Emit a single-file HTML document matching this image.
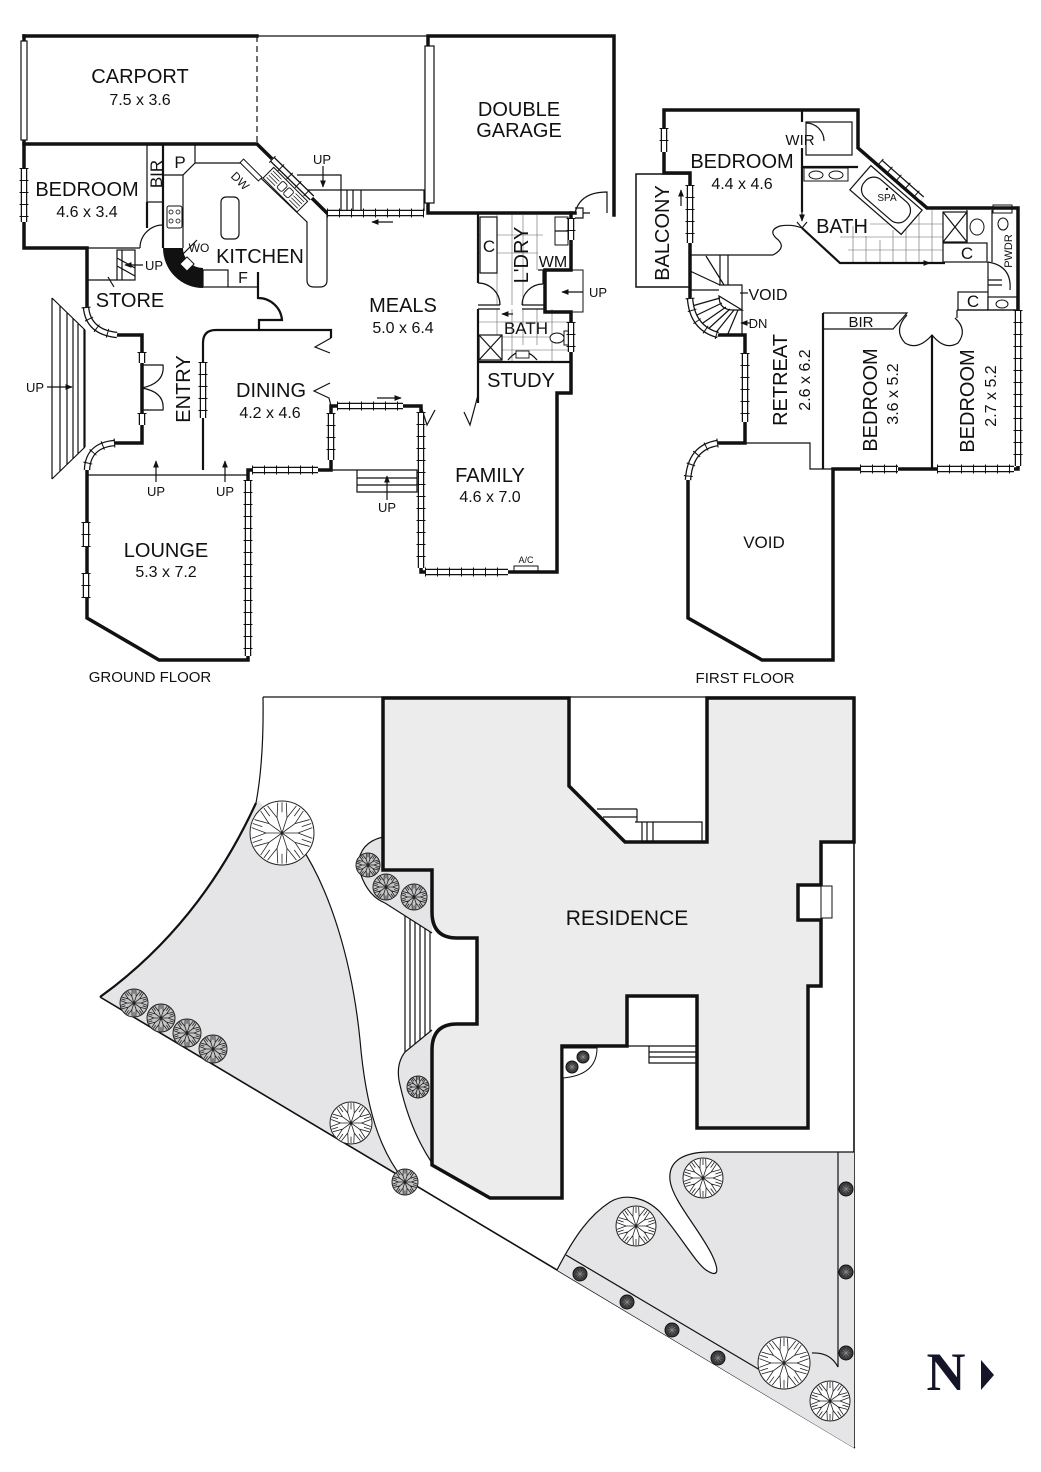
<!DOCTYPE html>
<html><head><meta charset="utf-8">
<style>
html,body{margin:0;padding:0;background:#fff;}
body{width:1041px;height:1472px;overflow:hidden;}
svg{display:block;}
text{font-family:"Liberation Sans",Arial,sans-serif;fill:#111;text-anchor:middle;}
.L{font-size:20px;}
.D{font-size:16px;}
.S{font-size:13px;}
.W{stroke:#111;stroke-width:3.5;fill:none;stroke-linejoin:miter;stroke-linecap:square;}
.M{stroke:#111;stroke-width:2.2;fill:none;}
.T{stroke:#111;stroke-width:1.2;fill:none;}
.F{stroke:#666;stroke-width:0.6;fill:none;}
.wo{stroke:#111;stroke-width:6.5;fill:none;}
.wi{stroke:#fff;stroke-width:4;fill:none;}
.wt{stroke:#111;stroke-width:9;fill:none;stroke-dasharray:1 11;}
</style></head>
<body>
<svg xmlns="http://www.w3.org/2000/svg" xmlns:xlink="http://www.w3.org/1999/xlink" width="1041" height="1472" viewBox="0 0 1041 1472">
<defs>
<marker id="ar" viewBox="0 0 10 10" refX="9" refY="5" markerWidth="6" markerHeight="6" orient="auto"><path d="M0,1 L10,5 L0,9 Z" fill="#111"/></marker>
<path id="tp" fill="none" stroke="#222" stroke-width="0.8" vector-effect="non-scaling-stroke" d="M0,0L5,0L9.46,-1.67M5,0L9.46,1.67 M0,0L4.05,2.94L8.63,4.2M4.05,2.94L6.67,6.9 M0,0L1.55,4.76L4.5,8.48M1.55,4.76L1.33,9.5 M0,0L-1.55,4.76L-1.33,9.5M-1.55,4.76L-4.5,8.48 M0,0L-4.05,2.94L-6.67,6.9M-4.05,2.94L-8.63,4.2 M0,0L-5,0L-9.46,1.67M-5,0L-9.46,-1.67 M0,0L-4.05,-2.94L-8.63,-4.2M-4.05,-2.94L-6.67,-6.9 M0,0L-1.55,-4.76L-4.5,-8.48M-1.55,-4.76L-1.33,-9.5 M0,0L1.55,-4.76L1.33,-9.5M1.55,-4.76L4.5,-8.48 M0,0L4.05,-2.94L6.67,-6.9M4.05,-2.94L8.63,-4.2 M6.18,2.01L9.13,2.97M3.82,5.26L5.64,7.77M0,6.5L0,9.6M-3.82,5.26L-5.64,7.77M-6.18,2.01L-9.13,2.97M-6.18,-2.01L-9.13,-2.97M-3.82,-5.26L-5.64,-7.77M0,-6.5L0,-9.6M3.82,-5.26L5.64,-7.77M6.18,-2.01L9.13,-2.97"/>
<g id="bt"><circle r="10" fill="#fff" stroke="#222" stroke-width="1" vector-effect="non-scaling-stroke"/><use xlink:href="#tp" href="#tp"/></g>
<g id="ht"><circle r="10" fill="#c4c4c4" stroke="#222" stroke-width="1" vector-effect="non-scaling-stroke"/><use xlink:href="#tp" href="#tp"/></g>
<g id="dt"><circle r="10" fill="#3c3c3c" stroke="#111" stroke-width="1" vector-effect="non-scaling-stroke"/><path d="M-6,0H6M0,-6V6M-4,-4L4,4M-4,4L4,-4" stroke="#888" stroke-width="0.7" vector-effect="non-scaling-stroke"/></g>
<path id="wins" d="M24,168V222 M327,213H424 M86,522V547 M86,573V598 M248,480V656 M252,470H318 M203,362V418 M331,413V460 M337,406H403 M421,412V568 M425,572H508 M571,218V240 M571,322V352 M142,352V363 M142,413V425 M86,307Q88,332 117,335 M115,443Q88,445 87,470 M272,159L312,198
M664,128V152 M690,185V243 M690,298Q692,328 718,335 M745,353V422 M718,443Q690,447 688,480 M860,469H898 M937,469H1014 M1018,310V466 M880,162L922,199"/>
</defs>

<!-- ================= GROUND FLOOR ================= -->
<path class="T" d="M257,36H428"/>
<path class="T" d="M257,36V144" stroke-dasharray="6 4"/>
<!-- stairs near meals -->
<path class="T" d="M297,175H341V213 M305,190H424V211 M347,190V211 M353,190V211 M361,190V211"/>
<text class="S" x="322" y="164">UP</text>
<path class="T" d="M323,166V187" marker-end="url(#ar)"/>
<path class="T" d="M393,222H372" marker-end="url(#ar)"/>

<!-- bedroom / kitchen details -->
<path class="T" d="M87,248H140"/>
<path class="T" d="M140,248A23,23 0 0 1 163,225"/>
<rect x="147" y="145" width="16" height="57" fill="none" stroke="#111" stroke-width="1.2"/>
<path class="M" d="M147,202V228"/>
<path class="T" d="M163,175H183L195,163V145"/>
<path class="T" d="M195,163H245L307,222V280Q307,287 314,287H320Q327,287 327,280V213"/>
<path class="T" d="M183,175V248"/>
<rect x="167" y="206" width="15" height="22" rx="2" fill="#fff" stroke="#111" stroke-width="1"/>
<circle cx="171" cy="212" r="2" fill="none" stroke="#111" stroke-width="0.8"/><circle cx="178" cy="212" r="2" fill="none" stroke="#111" stroke-width="0.8"/>
<circle cx="171" cy="221" r="2" fill="none" stroke="#111" stroke-width="0.8"/><circle cx="178" cy="221" r="2" fill="none" stroke="#111" stroke-width="0.8"/>
<rect x="221" y="197" width="18" height="42" rx="5" fill="#fff" stroke="#111" stroke-width="1.2"/>
<g transform="translate(251,170) rotate(45)"><rect x="-13" y="-2.5" width="26" height="5" fill="#fff" stroke="#111" stroke-width="1"/></g>
<text transform="translate(240,181) rotate(45)" y="4" style="font-size:12px">DW</text>
<g transform="translate(285,190) rotate(45)"><rect x="-24" y="-8" width="48" height="15" fill="#fff" stroke="#111" stroke-width="1"/>
<path d="M-22,-5H-10M-22,-2H-10M-22,1H-10M-22,4H-10M10,-5H22M10,-2H22M10,1H22M10,4H22" stroke="#111" stroke-width="0.7"/>
<rect x="-8" y="-5" width="7" height="9" rx="2" fill="#fff" stroke="#111" stroke-width="0.9"/><rect x="1" y="-5" width="7" height="9" rx="2" fill="#fff" stroke="#111" stroke-width="0.9"/></g>
<path d="M163,248A40,40 0 0 0 203,288L203,268A20,20 0 0 1 183,248Z" fill="#111"/>
<g transform="translate(187,264) rotate(45)"><rect x="-5" y="-5" width="10" height="10" fill="#fff" stroke="#111" stroke-width="1"/></g>
<path class="T" d="M183,254L197,240"/>
<rect x="203" y="270" width="25" height="17" fill="#fff" stroke="#111" stroke-width="1.2"/>
<path class="T" d="M228,287H258"/>
<path class="M" d="M258,272V298A24,24 0 0 1 282,320H259V330"/>
<!-- store -->
<path class="T" d="M87,280H117"/>
<rect x="117" y="250" width="18" height="30" fill="none" stroke="#111" stroke-width="1.2"/>
<path class="T" d="M117,258L135,268M117,266L135,276M122,250V280"/>
<path class="T" d="M143,265H125" marker-end="url(#ar)"/>
<path class="T" d="M108,277L114,287"/>
<!-- big entry stairs -->
<path class="T" d="M52,298L85,330M52,479L85,447M52,298V479M60,305.7V471.3M67,312.4V464.6M73,318.2V458.9M78,323V454.2M84,328.8V448.4M85,330V447"/>
<path class="T" d="M47,387H72" marker-end="url(#ar)"/>
<text class="S" x="35" y="392">UP</text>
<!-- entry door -->
<path class="T" d="M142,365H163Q165,383 142,388Q165,392 163,410H142"/>
<!-- entry / dining -->
<path class="T" d="M86,475H248"/>
<path class="M" d="M203,470V343Q203,330 216,330H331V338"/>
<path class="T" d="M331,338L315,347L330,353"/>
<path class="T" d="M330,383L314,391L329,398L331,406"/>
<path class="T" d="M156,482V461" marker-end="url(#ar)"/>
<path class="T" d="M225,482V461" marker-end="url(#ar)"/>
<text class="S" x="156" y="496">UP</text>
<text class="S" x="225" y="496">UP</text>
<path class="T" d="M377,398H401" marker-end="url(#ar)"/>
<path class="T" d="M421,406L427,425L435,410"/>
<path class="T" d="M478,395L470,425L464,412"/>
<!-- family stair -->
<path class="T" d="M331,470H417V492H357V470M357,478H417M357,485H417"/>
<path class="T" d="M387,500V476" marker-end="url(#ar)"/>
<text class="S" x="387" y="512">UP</text>
<rect x="514" y="566" width="24" height="6" fill="#fff" stroke="#111" stroke-width="1"/>
<text x="526" y="563" style="font-size:9px">A/C</text>
<!-- laundry / bath -->
<path class="F" d="M497,215V305M512,215V305M523,215V305M537,215V270M478,235H543M478,253H538M497,309V335M512,309V362M523,309V345M537,309V345M552,309V362M478,322H571M502,337H571M502,350H571"/>
<path class="M" d="M478,213V283M478,309V403M478,362H571"/>
<rect x="480" y="217" width="17" height="56" fill="#fff" stroke="#111" stroke-width="1.2"/>
<path class="T" d="M478,283A22,22 0 0 1 500,305M543,284A21,21 0 0 0 522,305"/>
<path class="T" d="M478,305H500M478,309H500M522,305H545M522,309H545M543,270V284"/>
<path class="T" d="M513,314H502" marker-end="url(#ar)"/>
<rect x="555" y="217" width="13" height="28" fill="#fff" stroke="#111" stroke-width="1"/>
<path class="T" d="M555,231H568M538,270H571"/>
<rect x="545" y="270" width="38" height="42" fill="none" stroke="#111" stroke-width="1"/>
<path class="T" d="M583,292H562" marker-end="url(#ar)"/>
<text class="S" x="598" y="297">UP</text>
<rect x="479" y="335" width="23" height="25" fill="#fff" stroke="#111" stroke-width="1.2"/>
<path class="T" d="M479,335L502,360M502,335L479,360"/>
<ellipse cx="557" cy="338" rx="7" ry="5" fill="#fff" stroke="#111" stroke-width="1"/>
<rect x="564" y="331" width="6" height="14" fill="#fff" stroke="#111" stroke-width="1"/>
<path class="T" d="M508,360Q522,343 537,360"/><rect x="516" y="351" width="13" height="7" fill="#fff" stroke="#111" stroke-width="0.9"/>
<path class="T" d="M575,208H583V218H575M583,213H590"/>
<path class="T" d="M575,213Q580,192 607,192V213"/>

<!-- thick walls ground -->
<path class="W" d="M24,36H257"/>
<path class="W" d="M24,36V248H87V307"/>
<path class="W" d="M24,144H257L327,213"/>
<path class="M" d="M163,144V248"/>
<path class="W" d="M428,36V213H575M428,36H614V215"/>
<path class="W" d="M117,335H142V443H115"/>
<path class="W" d="M87,470V618L159,660H248V470H331V406H421V572H557V393H571V312H545V270H571V213"/>
<!-- window frames over walls -->
<rect x="21" y="41" width="6" height="99" fill="#fff" stroke="#111" stroke-width="1.2"/>
<rect x="425" y="46" width="9" height="157" fill="#fff" stroke="#111" stroke-width="1.2"/>

<!-- ================= FIRST FLOOR ================= -->
<rect x="636" y="174" width="54" height="113" fill="none" stroke="#111" stroke-width="1.5"/>
<path class="T" d="M681,206V190" marker-end="url(#ar)"/>
<path class="T" d="M690,255H773"/>
<path class="T" d="M773,255Q788,247 776,238Q768,230 780,226Q792,224 802,228"/>
<!-- WIR -->
<path class="M" d="M802,110V122M802,148V167H858"/>
<rect x="806" y="122" width="46" height="33" fill="none" stroke="#111" stroke-width="1.2"/>
<path class="T" d="M806,123A18,18 0 0 1 824,141"/>
<!-- bath -->
<path class="M" d="M802,167V212"/>
<rect x="804" y="168" width="44" height="13" fill="#fff" stroke="#111" stroke-width="1"/>
<ellipse cx="816" cy="175" rx="7" ry="4" fill="#fff" stroke="#111" stroke-width="1"/>
<ellipse cx="836" cy="175" rx="7" ry="4" fill="#fff" stroke="#111" stroke-width="1"/>
<path class="T" d="M802,212V221" marker-end="url(#ar)"/>
<path class="T" d="M797,222L802,228L807,222"/>
<path class="F" d="M853,226V263M866,236V263M880,240V263M893,230V263M906,218V263M919,212V263M932,210V263M840,237H943M848,250H943M870,224H943"/>
<path class="M" d="M802,228L840,263H945"/>
<path class="T" d="M900,263H930" marker-end="url(#ar)"/>
<g transform="translate(886,200) rotate(41)"><rect x="-34" y="-16" width="68" height="32" fill="#fff" stroke="#111" stroke-width="1.2"/><rect x="-28" y="-12" width="56" height="24" rx="11" fill="#fff" stroke="#111" stroke-width="1.2"/></g>
<circle cx="887" cy="189" r="1.2" fill="#111"/>
<text x="887" y="201" style="font-size:10px">SPA</text>
<rect x="943" y="212" width="24" height="30" fill="#fff" stroke="#111" stroke-width="1.2"/>
<path class="T" d="M943,212L967,242M967,212L943,242"/>
<ellipse cx="977" cy="227" rx="7" ry="8" fill="#fff" stroke="#111" stroke-width="1"/>
<path class="T" d="M967,210V242M992,210V262"/>
<rect x="943" y="243" width="44" height="19" fill="#fff" stroke="#111" stroke-width="1.2"/>
<rect x="993" y="205" width="19" height="8" fill="#fff" stroke="#111" stroke-width="1"/>
<ellipse cx="1003" cy="224" rx="5" ry="6" fill="#fff" stroke="#111" stroke-width="1"/>
<path class="T" d="M988,262Q1012,266 1010,290M988,262V292M988,280H1002M988,285H1002"/>
<rect x="958" y="292" width="30" height="18" fill="#fff" stroke="#111" stroke-width="1.2"/>
<rect x="988" y="297" width="29" height="13" fill="#fff" stroke="#111" stroke-width="1.2"/>
<ellipse cx="1002" cy="304" rx="6" ry="4" fill="#fff" stroke="#111" stroke-width="1"/>
<path class="T" d="M957,310H1018M957,310V318"/>
<!-- BIR / bedrooms -->
<path class="T" d="M823,313H907L893,329H823"/>
<path class="M" d="M823,313V469M932,335V469"/>
<path class="T" d="M907,315Q893,330 905,343Q918,351 932,335Q945,351 958,343Q968,330 955,318"/>
<!-- spiral stair -->
<path class="T" d="M719,285H742V335M742,310H733Q719,310 719,296Z"/>
<path class="T" d="M719,290H690M720,298L692,306M722,303L695,316M726,307L700,325M730,309L706,331M734,310L714,335M738,310L727,336M720,285L690,271M720,285V255M728,285V255M724,285L706,256"/>
<path class="T" d="M740,293H748"/>
<path class="T" d="M750,323H741" marker-end="url(#ar)"/>
<path class="T" d="M745,443H810V469H833"/>
<!-- thick walls first floor -->
<path class="W" d="M688,480V618L762,660H833V469H1018V208H927L858,148V110H664V173H690V298"/>
<path class="W" d="M718,335H745V443H718"/>

<!-- windows -->
<use xlink:href="#wins" href="#wins" class="wo"/>
<use xlink:href="#wins" href="#wins" class="wi"/>
<use xlink:href="#wins" href="#wins" class="wt"/>

<!-- ground labels -->
<text class="L" x="140" y="83">CARPORT</text>
<text class="D" x="140" y="105">7.5 x 3.6</text>
<text class="L" x="519" y="116">DOUBLE</text>
<text class="L" x="519" y="137">GARAGE</text>
<text class="L" x="87" y="196">BEDROOM</text>
<text class="D" x="87" y="217">4.6 x 3.4</text>
<text transform="translate(156,174) rotate(-90)" y="6" style="font-size:17px">BIR</text>
<text x="180" y="168" style="font-size:17px">P</text>
<text class="L" x="260" y="263">KITCHEN</text>
<text x="199" y="252" style="font-size:12px">WO</text>
<text x="243" y="283" style="font-size:16px">F</text>
<text class="L" x="130" y="307">STORE</text>
<text class="S" x="154" y="270">UP</text>
<text class="L" x="403" y="312">MEALS</text>
<text class="D" x="403" y="333">5.0 x 6.4</text>
<text x="489" y="252" style="font-size:17px">C</text>
<text transform="translate(521,255) rotate(-90)" y="7" class="L">L'DRY</text>
<text x="553" y="267" style="font-size:16px">WM</text>
<text x="526" y="334" style="font-size:17px">BATH</text>
<text class="L" x="521" y="387">STUDY</text>
<text transform="translate(183,389) rotate(-90)" y="7" class="L">ENTRY</text>
<text class="L" x="271" y="397">DINING</text>
<text class="D" x="270" y="418">4.2 x 4.6</text>
<text class="L" x="490" y="482">FAMILY</text>
<text class="D" x="490" y="502">4.6 x 7.0</text>
<text class="L" x="166" y="557">LOUNGE</text>
<text class="D" x="166" y="577">5.3 x 7.2</text>
<text x="150" y="682" style="font-size:15px">GROUND FLOOR</text>

<!-- first labels -->
<text class="L" x="742" y="168">BEDROOM</text>
<text class="D" x="742" y="189">4.4 x 4.6</text>
<text x="800" y="145" style="font-size:15px">WIR</text>
<text transform="translate(662,233) rotate(-90)" y="7" class="L">BALCONY</text>
<text class="L" x="842" y="233">BATH</text>
<text transform="translate(1008,251) rotate(-90)" y="4" style="font-size:11px">PWDR</text>
<text x="967" y="259" style="font-size:17px">C</text>
<text x="973" y="307" style="font-size:17px">C</text>
<text x="768" y="300" style="font-size:16px">VOID</text>
<text x="758" y="328" style="font-size:13px">DN</text>
<text x="861" y="327" style="font-size:15px">BIR</text>
<text transform="translate(780,380) rotate(-90)" y="7" class="L">RETREAT</text>
<text transform="translate(804,380) rotate(-90)" y="6" class="D">2.6 x 6.2</text>
<text transform="translate(870,400) rotate(-90)" y="7" class="L">BEDROOM</text>
<text transform="translate(892,394) rotate(-90)" y="6" class="D">3.6 x 5.2</text>
<text transform="translate(967,401) rotate(-90)" y="7" class="L">BEDROOM</text>
<text transform="translate(990,396) rotate(-90)" y="6" class="D">2.7 x 5.2</text>
<text x="764" y="548" style="font-size:17px">VOID</text>
<text x="745" y="683" style="font-size:15px">FIRST FLOOR</text>

<!-- ================= SITE PLAN ================= -->
<path d="M258,800L300,845C330,890 352,960 360,1040C366,1110 380,1150 403,1179L100,997Q200,925 258,800Z" fill="#e5e5e7"/>
<path class="T" d="M300,845C330,890 352,960 360,1040C366,1110 380,1150 403,1179"/>
<path class="T" d="M263,697Q264,760 256,803"/>
<path d="M256,803Q200,925 100,997" fill="none" stroke="#111" stroke-width="2.2"/>
<path d="M100,997L855,1448" fill="none" stroke="#111" stroke-width="1.6"/>
<path class="T" d="M263,697H854"/>
<path d="M854,842V1448" fill="none" stroke="#111" stroke-width="1.6"/>
<path d="M383,837Q360,842 358,865Q365,895 385,903L432,933V870H383Z" fill="#e5e5e7" stroke="none"/>
<path class="T" d="M383,837Q360,842 358,865Q365,895 385,903L432,933"/>
<path d="M432,1030L405,1052Q395,1065 400,1085Q410,1130 432,1163Z" fill="#e5e5e7"/>
<path class="T" d="M432,1030L405,1052Q395,1065 400,1085Q410,1130 432,1163"/>
<path class="T" d="M405,916V1052M410,919V1048M415,922V1044M420,925V1040M425,928V1036M430,932V1032"/>
<path d="M854,1152H710C685,1152 668,1160 670,1180C672,1200 700,1230 712,1255C720,1272 718,1278 706,1270C695,1262 680,1235 660,1212C645,1197 625,1193 610,1202C590,1215 575,1235 557,1270L854,1448Z" fill="#e5e5e7"/>
<path class="T" d="M854,1152H710C685,1152 668,1160 670,1180C672,1200 700,1230 712,1255C720,1272 718,1278 706,1270C695,1262 680,1235 660,1212C645,1197 625,1193 610,1202C590,1215 575,1235 557,1270"/>
<path class="T" d="M566,1255L760,1370M838,1152V1367Q830,1352 812,1353"/>
<path d="M383,698H569V786L625,842H707V698H854V842H821V885H798V920H821V986H808V1128H697V996H627V1046H562V1198H490L432,1165V1050Q432,1024 457,1024H477V938H457Q432,938 432,912V870H383Z" fill="#ececec" stroke="#111" stroke-width="3.5" stroke-linejoin="miter"/>
<rect x="821" y="886" width="11" height="32" fill="#fff" stroke="#111" stroke-width="1"/>
<path class="T" d="M597,809H637M603,817H637M637,809V822M635,822H702V842M642,822V842M647,822V842M653,822V842"/>
<path class="T" d="M627,1046H697M649,1046V1063H697M649,1052H697M649,1057H697"/>
<path d="M563,1048H597Q597,1075 563,1078Z" fill="#fff" stroke="#111" stroke-width="1"/>
<text x="627" y="925" style="font-size:21px">RESIDENCE</text>
<use xlink:href="#bt" href="#bt" transform="translate(282,833) scale(3.2)"/>
<use xlink:href="#bt" href="#bt" transform="translate(351,1123) scale(2.1)"/>
<use xlink:href="#bt" href="#bt" transform="translate(703,1178) scale(2)"/>
<use xlink:href="#bt" href="#bt" transform="translate(636,1226) scale(2)"/>
<use xlink:href="#bt" href="#bt" transform="translate(784,1363) scale(2.6)"/>
<use xlink:href="#bt" href="#bt" transform="translate(830,1401) scale(2)"/>
<use xlink:href="#ht" href="#ht" transform="translate(134,1003) scale(1.4)"/>
<use xlink:href="#ht" href="#ht" transform="translate(161,1018) scale(1.4)"/>
<use xlink:href="#ht" href="#ht" transform="translate(187,1033) scale(1.4)"/>
<use xlink:href="#ht" href="#ht" transform="translate(213,1049) scale(1.4)"/>
<use xlink:href="#ht" href="#ht" transform="translate(368,865) scale(1.2)"/>
<use xlink:href="#ht" href="#ht" transform="translate(386,887) scale(1.3)"/>
<use xlink:href="#ht" href="#ht" transform="translate(414,897) scale(1.3)"/>
<use xlink:href="#ht" href="#ht" transform="translate(418,1087) scale(1.1)"/>
<use xlink:href="#ht" href="#ht" transform="translate(405,1182) scale(1.3)"/>
<use xlink:href="#dt" href="#dt" transform="translate(583,1057) scale(0.6)"/>
<use xlink:href="#dt" href="#dt" transform="translate(572,1067) scale(0.6)"/>
<use xlink:href="#dt" href="#dt" transform="translate(846,1189) scale(0.7)"/>
<use xlink:href="#dt" href="#dt" transform="translate(846,1272) scale(0.7)"/>
<use xlink:href="#dt" href="#dt" transform="translate(846,1353) scale(0.7)"/>
<use xlink:href="#dt" href="#dt" transform="translate(580,1274) scale(0.7)"/>
<use xlink:href="#dt" href="#dt" transform="translate(627,1302) scale(0.7)"/>
<use xlink:href="#dt" href="#dt" transform="translate(672,1330) scale(0.7)"/>
<use xlink:href="#dt" href="#dt" transform="translate(718,1358) scale(0.7)"/>
<text x="946" y="1390" style="font-family:'Liberation Serif',serif;font-weight:bold;font-size:54px;fill:#15152a">N</text>
<path d="M981,1360L994,1375L981,1390Z" fill="#15152a"/>
</svg>
</body></html>
